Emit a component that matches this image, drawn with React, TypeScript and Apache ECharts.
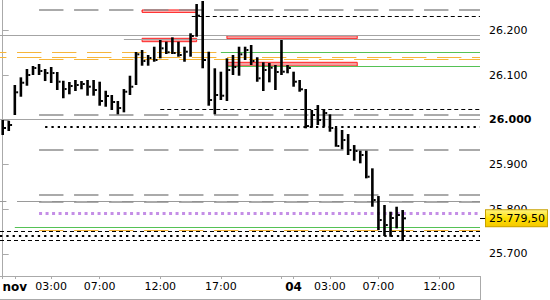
import React, { useEffect, useRef } from "react";
import * as echarts from "echarts";

// 30-minute bars, first bar at 23:00 (2 Nov); x unit = trading hours since 23:00
const barHighs = [
  25999.5, 25997.9, 26077.8, 26095.0, 26113.6, 26120.3, 26124.8, 26113.6, 26118.1, 26106.9,
  26087.4, 26084.5, 26089.0, 26086.7, 26089.0, 26089.0, 26085.2, 26065.0, 26055.4, 26042.0,
  26068.8, 26098.6, 26151.6, 26156.1, 26144.9, 26163.5, 26178.5, 26174.7, 26184.5, 26174.7,
  26163.5, 26193.5, 26259.0, 26265.8, 26152.3, 26115.2, 26107.6, 26137.5, 26144.9, 26163.5,
  26163.5, 26167.3, 26139.8, 26128.6, 26127.0, 26122.5, 26178.5, 26122.5, 26107.6, 26089.0,
  26068.8, 26021.9, 26033.0, 26021.9, 26012.2, 25981.6, 25977.1, 25968.1, 25943.5, 25930.8,
  25930.8, 25891.4, 25829.4, 25809.3, 25794.3, 25805.5, 25798.1,
];
const barLows = [
  25965.9, 25974.9, 26010.7, 26051.6, 26076.2, 26100.2, 26100.2, 26086.7, 26082.3, 26066.6,
  26048.0, 26057.0, 26064.4, 26068.2, 26053.9, 26053.9, 26031.5, 26029.2, 26021.9, 26012.2,
  26016.7, 26055.4, 26077.8, 26121.0, 26121.0, 26129.9, 26137.5, 26147.2, 26147.2, 26141.1,
  26129.9, 26141.1, 26185.9, 26115.2, 26031.5, 26012.2, 26044.2, 26042.0, 26100.2, 26098.6,
  26133.7, 26122.5, 26085.2, 26064.4, 26083.8, 26066.6, 26100.2, 26104.0, 26074.0, 26062.8,
  25980.9, 25982.2, 25988.3, 25984.5, 25973.3, 25939.7, 25933.9, 25921.2, 25908.4, 25902.6,
  25869.0, 25805.5, 25753.3, 25739.9, 25738.3, 25757.1, 25728.7,
];
const barCloses = [
  25981.6, 25988.3, 26061.5, 26082.9, 26100.2, 26115.8, 26109.1, 26104.6, 26104.6, 26085.2,
  26068.8, 26075.6, 26077.8, 26080.0, 26074.0, 26066.6, 26042.0, 26053.2, 26039.8, 26026.3,
  26062.8, 26074.0, 26146.5, 26131.5, 26138.2, 26133.7, 26159.9, 26151.0, 26149.4, 26144.9,
  26152.3, 26187.4, 26232.9, 26133.7, 26044.2, 26055.4, 26053.9, 26111.4, 26118.1, 26146.5,
  26156.1, 26131.5, 26092.8, 26111.4, 26116.5, 26106.9, 26107.6, 26115.8, 26085.2, 26068.2,
  25986.0, 26010.7, 25999.5, 26015.1, 25981.6, 25941.3, 25954.7, 25932.3, 25930.1, 25921.2,
  25872.6, 25820.5, 25775.7, 25764.5, 25780.2, 25786.9, 25779.5,
];
const BAR_HOURS = 0.5;

const X_MIN = -0.223;
const X_MAX = 39.38;
const Y_MIN = 25650.5;
const Y_MAX = 26268;

const xTickHours = [0, 1, 4, 8, 13, 18, 23, 24, 27, 31, 36];
const xLabelHours = [1, 4, 8, 13, 18, 24, 27, 31, 36];
const xLabelTexts = ["nov", "03:00", "07:00", "12:00", "17:00", "04", "03:00", "07:00", "12:00"];
const xBoldTexts = ["nov", "04"];

const yTickValues = [25700, 25800, 25900, 26000, 26100, 26200];
const yBoldValues = [26000];

const lastPrice = 25779.5;
const lastPriceText = "25.779,50";

// horizontal levels: price, start hour (null = from the left edge), kind
const levels: { price: number; from: number | null; kind: string }[] = [
  { price: 26247, from: 3, kind: "grayDash" },
  { price: 26232, from: 15.6, kind: "blackDash" },
  { price: 26190, from: null, kind: "graySolid" },
  { price: 26180, from: 10, kind: "graySolid" },
  { price: 26152, from: null, kind: "orangeDashA" },
  { price: 26152, from: 18, kind: "green" },
  { price: 26139.8, from: null, kind: "orangeDashA" },
  { price: 26136, from: 3, kind: "orangeDash" },
  { price: 26120.3, from: 18.5, kind: "green" },
  { price: 26024, from: 13, kind: "blackDash" },
  { price: 26012, from: 3, kind: "grayDash" },
  { price: 26001.7, from: null, kind: "graySolid" },
  { price: 25984.5, from: 3.5, kind: "blackDot" },
  { price: 25934, from: 3, kind: "grayDash" },
  { price: 25833, from: 3, kind: "grayDash" },
  { price: 25816.7, from: null, kind: "grayDashA" },
  { price: 25816.7, from: 3, kind: "grayDash" },
  { price: 25790.7, from: 3, kind: "purpleDot" },
  { price: 25759.4, from: 1, kind: "green" },
  { price: 25752.6, from: 3, kind: "orangeDash" },
  { price: 25750.4, from: null, kind: "blackDash" },
  { price: 25740.6, from: null, kind: "blackDot" },
  { price: 25731, from: null, kind: "blackDash" },
];

// zones: start hour, end hour, top price, bottom price, kind
const zones: { from: number; to: number; top: number; bottom: number; kind: string }[] = [
  { from: 11.5, to: 16, top: 26245.6, bottom: 26240.5, kind: "light" },
  { from: 11.5, to: 16, top: 26182.3, bottom: 26174.7, kind: "pink" },
  { from: 18.5, to: 29.25, top: 26188, bottom: 26181.4, kind: "pink" },
  { from: 18.5, to: 29.25, top: 26128.6, bottom: 26120.3, kind: "pink" },
];

const FONT = "DejaVu Sans";

const lineStyles: Record<string, any> = {
  graySolid: { color: "#a4a4a4", width: 1, type: "solid" },
  grayDash: { color: "#8e8e8e", width: 1.5, type: [24.4, 10.6] },
  grayDashA: { color: "#9a9a9a", width: 1, type: [24.4, 10.6], dashOffset: 17.7 },
  orangeDash: { color: "#f6b53a", width: 1.2, type: [24.4, 10.6] },
  orangeDashA: { color: "#f6b53a", width: 1.2, type: [24.4, 10.6], dashOffset: 17.7 },
  green: { color: "#55c255", width: 1.2, type: "solid" },
  blackDash: { color: "#000", width: 1, type: [4, 3] },
  blackDot: { color: "#000", width: 2, type: [2.3, 4] },
  purpleDot: { color: "#c48ee6", width: 3, type: [3, 3.5] },
};

const zoneStyles: Record<string, any> = {
  light: { color: "#ffd6d6", borderColor: "#ff0000", borderWidth: 1 },
  pink: { color: "#f5a0a0", borderColor: "#ff2020", borderWidth: 1 },
};

function fmtPrice(v: number): string {
  const r = Math.round(v);
  const th = Math.floor(r / 1000);
  const rest = String(r % 1000).padStart(3, "0");
  return `${th}.${rest}`;
}

export default function App() {
  const ref = useRef<HTMLDivElement>(null);

  useEffect(() => {
    if (!ref.current) return;
    const chart = echarts.init(ref.current, undefined, { renderer: "svg" });

    const barData = barHighs.map((h, i) => [i * BAR_HOURS, h, barLows[i], barCloses[i]]);

    const markLineData: any[] = levels.map((l) => [
      {
        coord: [l.from === null ? X_MIN : l.from, l.price],
        lineStyle: lineStyles[l.kind],
      },
      { coord: [X_MAX, l.price] },
    ]);

    const markAreaData = zones.map((z) => [
      { coord: [z.from, z.top], itemStyle: zoneStyles[z.kind] },
      { coord: [z.to, z.bottom] },
    ]);

    const option: any = {
      animation: false,
      textStyle: { fontFamily: FONT },
      grid: { left: 0, right: 70, top: 0, bottom: 24, outerBoundsMode: "none", containLabel: false },
      xAxis: {
        type: "value",
        min: X_MIN,
        max: X_MAX,
        splitLine: { show: false },
        axisLine: { show: true, lineStyle: { color: "#aaaaaa", width: 1 } },
        axisTick: {
          show: true,
          customValues: xTickHours,
          length: 3,
          lineStyle: { color: "#aaaaaa" },
        },
        axisLabel: {
          customValues: xLabelHours,
          margin: 5,
          fontSize: 11,
          fontFamily: FONT,
          color: "#000",
          formatter: (v: number) => {
            const idx = xLabelHours.indexOf(v);
            const t = idx >= 0 ? xLabelTexts[idx] : "";
            return xBoldTexts.includes(t) ? `{b|${t}}` : `{n|${t}}`;
          },
          rich: {
            b: { fontWeight: "bold", fontSize: 12, fontFamily: FONT, color: "#000" },
            n: { fontSize: 11, fontFamily: FONT, color: "#000" },
          },
        },
      },
      yAxis: [
        {
          type: "value",
          position: "right",
          min: Y_MIN,
          max: Y_MAX,
          scale: true,
          splitLine: { show: false },
          axisLine: { show: true, lineStyle: { color: "#aaaaaa", width: 1 } },
          axisTick: {
            show: true,
            customValues: yTickValues,
            length: 6,
            lineStyle: { color: "#aaaaaa" },
          },
          axisLabel: {
            customValues: yTickValues,
            margin: 9,
            fontSize: 11,
            fontFamily: FONT,
            color: "#000",
            formatter: (v: number) => {
              const t = fmtPrice(v);
              return yBoldValues.includes(v) ? `{b|${t}}` : `{n|${t}}`;
            },
            rich: {
              b: { fontWeight: "bold", fontSize: 11, fontFamily: FONT, color: "#000" },
              n: { fontSize: 11, fontFamily: FONT, color: "#000" },
            },
          },
        },
        {
          type: "value",
          position: "right",
          min: Y_MIN,
          max: Y_MAX,
          scale: true,
          splitLine: { show: false },
          axisLine: { show: false },
          axisLabel: { show: false },
          axisTick: {
            show: true,
            customValues: [lastPrice],
            length: 6,
            lineStyle: { color: "#000" },
          },
        },
      ],
      graphic: [
        {
          type: "line",
          shape: { x1: 480.5, y1: 276, x2: 480.5, y2: 300 },
          style: { stroke: "#aaaaaa", lineWidth: 1 },
          silent: true,
        },
        {
          type: "line",
          shape: { x1: 0, y1: 299.5, x2: 480.5, y2: 299.5 },
          style: { stroke: "#aaaaaa", lineWidth: 1 },
          silent: true,
        },
      ],
      series: [
        {
          type: "line",
          data: [[X_MIN, lastPrice]],
          showSymbol: false,
          symbol: "none",
          lineStyle: { opacity: 0 },
          silent: true,
          clip: false,
          markArea: { silent: true, data: markAreaData },
          markLine: {
            silent: true,
            symbol: ["none", "none"],
            label: { show: false },
            emphasis: { disabled: true },
            data: markLineData,
          },
        },
        {
          type: "line",
          data: [[X_MIN, lastPrice]],
          showSymbol: false,
          symbol: "none",
          lineStyle: { color: "rgba(0,0,0,0)" },
          silent: true,
          z: 20,
          markLine: {
            silent: true,
            z: 20,
            symbol: ["none", "none"],
            emphasis: { disabled: true },
            lineStyle: { color: "rgba(0,0,0,0)", width: 1, type: "solid" },
            label: {
              show: true,
              position: "end",
              distance: 6,
              formatter: lastPriceText,
              color: "#000",
              fontFamily: FONT,
              fontSize: 11,
              padding: [3, 2, 2, 3],
              borderColor: "#c9a200",
              borderWidth: 1,
              backgroundColor: new echarts.graphic.LinearGradient(0, 0, 0, 1, [
                { offset: 0, color: "#fff27a" },
                { offset: 0.5, color: "#ffe000" },
                { offset: 1, color: "#f5c800" },
              ]),
            },
            data: [{ yAxis: lastPrice }],
          },
        },
        {
          type: "custom",
          z: 10,
          silent: true,
          clip: false,
          encode: { x: 0, y: [1, 2, 3] },
          data: barData,
          renderItem: (params: any, api: any) => {
            const x = api.value(0);
            const pHi = api.coord([x, api.value(1)]);
            const pLo = api.coord([x, api.value(2)]);
            const pCl = api.coord([x, api.value(3)]);
            const w = 2.6;
            return {
              type: "group",
              children: [
                {
                  type: "rect",
                  shape: { x: pHi[0] - w / 2, y: pHi[1], width: w, height: Math.max(1, pLo[1] - pHi[1]) },
                  style: { fill: "#000" },
                },
                {
                  type: "rect",
                  shape: { x: pHi[0] + w / 2, y: pCl[1] - 1, width: 2, height: 2 },
                  style: { fill: "#000" },
                },
              ],
            };
          },
        },
      ],
    };

    chart.setOption(option);
    return () => chart.dispose();
  }, []);

  return (
    <div
      ref={ref}
      style={{ position: "fixed", left: 0, top: 0, width: 550, height: 300, background: "#fff" }}
    />
  );
}
